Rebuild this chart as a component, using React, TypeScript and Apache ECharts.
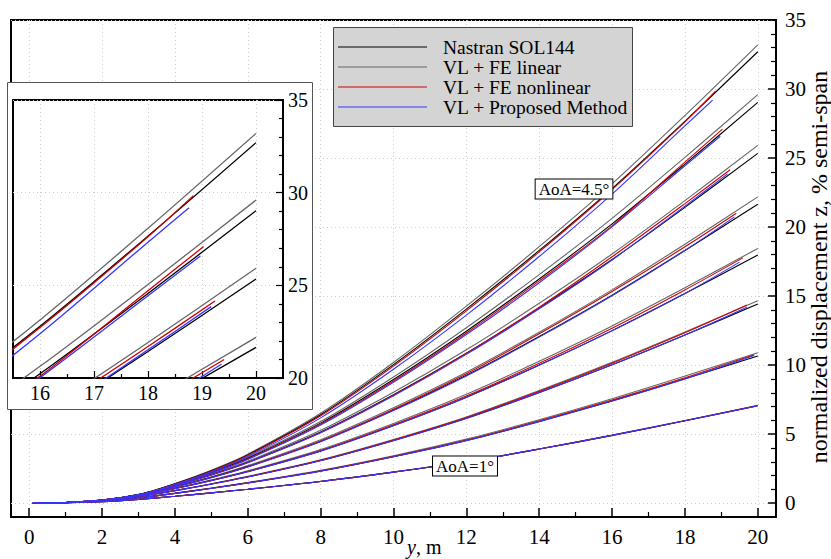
import React, { useEffect, useRef } from 'react';
import * as echarts from 'echarts';

const FONT = "'Liberation Serif', 'Times New Roman', Times, serif";

// AoA values (deg) for the 8 load cases
const aoaValues = [1, 1.5, 2, 2.5, 3, 3.5, 4, 4.5];
// span stations y, m
const spanX = [0.1, 1, 2, 3, 4, 5, 6, 8, 10, 12, 14, 16, 18, 20];

// Nastran SOL144 (black)
const nastranZ = [
  [0, 0.03, 0.11, 0.28, 0.50, 0.75, 1.01, 1.57, 2.25, 3.00, 3.92, 4.91, 5.97, 7.06],
  [0, 0.04, 0.16, 0.39, 0.71, 1.08, 1.47, 2.33, 3.37, 4.54, 5.92, 7.41, 9.01, 10.66],
  [0, 0.05, 0.19, 0.49, 0.91, 1.39, 1.91, 3.09, 4.54, 6.15, 8.02, 10.03, 12.19, 14.42],
  [0, 0.05, 0.21, 0.55, 1.06, 1.64, 2.29, 3.79, 5.63, 7.68, 10.01, 12.50, 15.19, 17.97],
  [0, 0.05, 0.22, 0.60, 1.19, 1.87, 2.65, 4.49, 6.75, 9.26, 12.08, 15.07, 18.31, 21.65],
  [0, 0.05, 0.23, 0.62, 1.29, 2.07, 2.97, 5.16, 7.86, 10.86, 14.15, 17.65, 21.43, 25.34],
  [0, 0.05, 0.22, 0.62, 1.36, 2.23, 3.26, 5.80, 8.96, 12.46, 16.24, 20.23, 24.56, 29.03],
  [0, 0.04, 0.20, 0.60, 1.40, 2.35, 3.50, 6.41, 10.04, 14.06, 18.31, 22.79, 27.66, 32.70],
];

// VL + FE linear (gray)
const linearZ = [
  [0, 0.03, 0.11, 0.28, 0.50, 0.75, 1.01, 1.58, 2.26, 3.01, 3.93, 4.93, 5.99, 7.09],
  [0, 0.04, 0.16, 0.40, 0.73, 1.10, 1.50, 2.38, 3.44, 4.64, 6.05, 7.57, 9.21, 10.90],
  [0, 0.05, 0.19, 0.50, 0.92, 1.41, 1.95, 3.15, 4.62, 6.25, 8.16, 10.20, 12.40, 14.66],
  [0, 0.05, 0.22, 0.57, 1.09, 1.69, 2.35, 3.89, 5.78, 7.89, 10.28, 12.84, 15.60, 18.45],
  [0, 0.05, 0.23, 0.61, 1.22, 1.92, 2.72, 4.60, 6.92, 9.49, 12.38, 15.45, 18.76, 22.19],
  [0, 0.05, 0.23, 0.64, 1.32, 2.12, 3.04, 5.28, 8.04, 11.11, 14.48, 18.05, 21.92, 25.92],
  [0, 0.05, 0.22, 0.63, 1.39, 2.27, 3.32, 5.91, 9.14, 12.71, 16.56, 20.63, 25.05, 29.60],
  [0, 0.04, 0.20, 0.61, 1.42, 2.39, 3.55, 6.51, 10.19, 14.27, 18.58, 23.13, 28.08, 33.20],
];

// VL + FE nonlinear (red); last point is at the deformed tip station
const nonlinearZ = [
  [0, 0.03, 0.11, 0.28, 0.50, 0.75, 1.01, 1.57, 2.25, 3.00, 3.92, 4.91, 5.97, 7.05],
  [0, 0.04, 0.16, 0.39, 0.71, 1.08, 1.47, 2.34, 3.39, 4.57, 5.97, 7.47, 9.08, 10.75],
  [0, 0.05, 0.19, 0.49, 0.91, 1.39, 1.91, 3.10, 4.57, 6.20, 8.10, 10.14, 12.34, 14.35],
  [0, 0.05, 0.21, 0.55, 1.06, 1.64, 2.29, 3.81, 5.68, 7.76, 10.13, 12.68, 15.45, 17.77],
  [0, 0.05, 0.22, 0.59, 1.18, 1.86, 2.64, 4.50, 6.80, 9.37, 12.27, 15.33, 18.57, 21.00],
  [0, 0.05, 0.23, 0.61, 1.28, 2.05, 2.94, 5.12, 7.82, 10.85, 14.20, 17.85, 21.70, 24.15],
  [0, 0.05, 0.22, 0.61, 1.34, 2.20, 3.21, 5.72, 8.85, 12.33, 16.10, 20.09, 24.71, 27.09],
  [0, 0.04, 0.20, 0.59, 1.38, 2.32, 3.46, 6.33, 9.93, 13.93, 18.20, 22.72, 27.62, 29.84],
];
const nonlinearTipX = [19.97, 19.9, 19.7, 19.59, 19.41, 19.24, 19.03, 18.84];

// VL + Proposed Method (blue)
const proposedZ = [
  [0, 0.03, 0.11, 0.28, 0.50, 0.75, 1.01, 1.57, 2.25, 3.00, 3.92, 4.91, 5.97, 7.04],
  [0, 0.04, 0.16, 0.39, 0.71, 1.07, 1.46, 2.32, 3.36, 4.53, 5.91, 7.40, 9.00, 10.70],
  [0, 0.05, 0.19, 0.49, 0.90, 1.38, 1.90, 3.08, 4.53, 6.14, 8.01, 10.02, 12.18, 14.20],
  [0, 0.05, 0.21, 0.54, 1.05, 1.63, 2.28, 3.77, 5.61, 7.66, 9.99, 12.49, 15.19, 17.46],
  [0, 0.05, 0.22, 0.59, 1.17, 1.85, 2.62, 4.45, 6.71, 9.22, 12.03, 15.03, 18.30, 20.74],
  [0, 0.05, 0.22, 0.61, 1.27, 2.04, 2.93, 5.10, 7.78, 10.78, 14.08, 17.62, 21.52, 23.85],
  [0, 0.05, 0.21, 0.60, 1.32, 2.17, 3.17, 5.66, 8.76, 12.22, 15.97, 20.02, 24.44, 26.58],
  [0, 0.04, 0.19, 0.58, 1.35, 2.27, 3.38, 6.18, 9.70, 13.62, 17.87, 22.39, 27.33, 29.19],
];
const proposedTipX = [19.98, 19.9, 19.7, 19.5, 19.36, 19.17, 18.97, 18.76];

// tick values
const xMajorTicks = [0, 2, 4, 6, 8, 10, 12, 14, 16, 18, 20];
const xMinorTicks = [1, 3, 5, 7, 9, 11, 13, 15, 17, 19];
const yMajorTicks = [0, 5, 10, 15, 20, 25, 30, 35];
const yMinorTicks = [1, 2, 3, 4, 6, 7, 8, 9, 11, 12, 13, 14, 16, 17, 18, 19, 21, 22, 23, 24, 26, 27, 28, 29, 31, 32, 33, 34];
const insetXMajor = [16, 17, 18, 19, 20];
const insetXMinor = [16.5, 17.5, 18.5, 19.5];
const insetYMajor = [20, 25, 30, 35];
const insetYMinor = [21, 22, 23, 24, 26, 27, 28, 29, 31, 32, 33, 34];

const legendNames = ['Nastran SOL144', 'VL + FE linear', 'VL + FE nonlinear', 'VL + Proposed Method'];
const legendColors = ['#000000', '#666666', '#d00000', '#3535ff'];
const aoaLabelTexts = ['AoA=4.5°', 'AoA=1°'];

function buildSeries(name: string, color: string, rows: number[][], tipX: number[] | null, inset: boolean, z: number) {
  return rows.map((row, k) => ({
    type: 'line',
    name,
    xAxisIndex: inset ? 2 : 0,
    yAxisIndex: inset ? 2 : 0,
    data: row.map((v, i) => [tipX && i === row.length - 1 ? tipX[k] : spanX[i], v]),
    showSymbol: false,
    symbol: 'none',
    smooth: 0.3,
    clip: true,
    silent: true,
    z,
    lineStyle: { color, width: inset ? 1.3 : 1.1 },
    itemStyle: { color },
  }));
}

const gridLine = { show: true, lineStyle: { color: '#cdcdcd', type: [1, 3], width: 1 } };
const labelStyle = (size: number, margin: number, vals: number[]) => ({
  customValues: vals,
  margin,
  fontSize: size,
  fontFamily: FONT,
  color: '#000',
});

export default function App() {
  const ref = useRef<HTMLDivElement>(null);
  useEffect(() => {
    if (!ref.current) return;
    const chart = echarts.init(ref.current, undefined, { renderer: 'svg' });
    const methods: [string, string, number[][], number[] | null][] = [
      [legendNames[1], legendColors[1], linearZ, null],
      [legendNames[0], legendColors[0], nastranZ, null],
      [legendNames[2], legendColors[2], nonlinearZ, nonlinearTipX],
      [legendNames[3], legendColors[3], proposedZ, proposedTipX],
    ];
    const series: any[] = [];
    methods.forEach((m, i) => series.push(...buildSeries(m[0], m[1], m[2], m[3], false, 2 + i)));
    methods.forEach((m, i) => series.push(...buildSeries(m[0], m[1], m[2], m[3], true, 61 + i)));

    const legendEls: any[] = [
      { type: 'rect', z: 50, shape: { x: 333.5, y: 27.5, width: 299, height: 99 }, style: { fill: '#d4d4d4', stroke: '#444', lineWidth: 1 } },
    ];
    legendNames.forEach((n, i) => {
      const y = 47 + 20 * i;
      legendEls.push({ type: 'line', z: 51, shape: { x1: 338, y1: y, x2: 427, y2: y }, style: { stroke: legendColors[i], lineWidth: 1.2 } });
      legendEls.push({ type: 'text', z: 51, x: 443, y, style: { text: n, fontSize: 19.5, fontFamily: FONT, fill: '#000', align: 'left', verticalAlign: 'middle' } });
    });

    chart.setOption({
      animation: false,
      backgroundColor: '#fff',
      grid: [
        { left: 11, top: 20, right: 55, bottom: 42, show: true, borderColor: '#000', borderWidth: 2, backgroundColor: 'transparent' },
        { left: 13, top: 100, width: 270, height: 278, show: true, borderColor: '#000', borderWidth: 2, backgroundColor: 'transparent', z: 60 },
      ],
      xAxis: [
        {
          gridIndex: 0, type: 'value', min: -0.5, max: 20.5, splitNumber: 10, position: 'bottom',
          axisLine: { show: true, onZero: false, lineStyle: { color: '#000', width: 2 } },
          axisTick: { show: true, inside: true, length: 9, customValues: xMajorTicks, lineStyle: { color: '#000', width: 1.5 } },
          axisLabel: labelStyle(21, 9, xMajorTicks),
          splitLine: gridLine,
        },
        {
          gridIndex: 0, type: 'value', min: -0.5, max: 20.5, position: 'bottom',
          axisLine: { show: false, onZero: false },
          axisTick: { show: true, inside: true, length: 5, customValues: xMinorTicks, lineStyle: { color: '#000', width: 1.2 } },
          axisLabel: { show: false },
          splitLine: { show: false },
        },
        {
          gridIndex: 1, type: 'value', min: 15.5, max: 20.5, position: 'bottom', z: 60,
          axisLine: { show: true, onZero: false, lineStyle: { color: '#000', width: 2 } },
          axisTick: { show: true, inside: true, length: 7, customValues: insetXMajor, lineStyle: { color: '#000', width: 1.2 } },
          axisLabel: labelStyle(20, 5, insetXMajor),
          splitLine: gridLine,
        },
        {
          gridIndex: 1, type: 'value', min: 15.5, max: 20.5, position: 'bottom', z: 60,
          axisLine: { show: false, onZero: false },
          axisTick: { show: true, inside: true, length: 4, customValues: insetXMinor, lineStyle: { color: '#000', width: 1.2 } },
          axisLabel: { show: false },
          splitLine: { show: false },
        },
      ],
      yAxis: [
        {
          gridIndex: 0, type: 'value', min: -1, max: 35, splitNumber: 7, position: 'right', offset: 0,
          axisLine: { show: true, onZero: false, lineStyle: { color: '#000', width: 2 } },
          axisTick: { show: true, inside: true, length: 8, customValues: yMajorTicks, lineStyle: { color: '#000', width: 1.5 } },
          axisLabel: labelStyle(21, 9, yMajorTicks),
          splitLine: gridLine,
        },
        {
          gridIndex: 0, type: 'value', min: -1, max: 35, position: 'right', offset: 0,
          axisLine: { show: false, onZero: false },
          axisTick: { show: true, inside: true, length: 5, customValues: yMinorTicks, lineStyle: { color: '#000', width: 1.2 } },
          axisLabel: { show: false },
          splitLine: { show: false },
        },
        {
          gridIndex: 1, type: 'value', min: 20, max: 35, position: 'right', offset: 0, z: 60,
          axisLine: { show: true, onZero: false, lineStyle: { color: '#000', width: 2 } },
          axisTick: { show: true, inside: true, length: 7, customValues: insetYMajor, lineStyle: { color: '#000', width: 1.2 } },
          axisLabel: labelStyle(20, 5, insetYMajor),
          splitLine: gridLine,
        },
        {
          gridIndex: 1, type: 'value', min: 20, max: 35, position: 'right', offset: 0, z: 60,
          axisLine: { show: false, onZero: false },
          axisTick: { show: true, inside: true, length: 4, customValues: insetYMinor, lineStyle: { color: '#000', width: 1.2 } },
          axisLabel: { show: false },
          splitLine: { show: false },
        },
      ],
      graphic: {
        elements: [
          { type: 'rect', z: 50, shape: { x: 7.5, y: 82.5, width: 305, height: 327 }, style: { fill: '#fff', stroke: '#555', lineWidth: 1 } },
          ...legendEls,
          {
            type: 'text', z: 52, x: 574, y: 189,
            style: { text: aoaLabelTexts[0], fontSize: 17, fontFamily: FONT, fill: '#000', align: 'center', verticalAlign: 'middle', backgroundColor: '#fff', borderColor: '#000', borderWidth: 1, padding: [1, 3, 1, 3] },
          },
          {
            type: 'text', z: 52, x: 465, y: 466,
            style: { text: aoaLabelTexts[1], fontSize: 17, fontFamily: FONT, fill: '#000', align: 'center', verticalAlign: 'middle', backgroundColor: '#fff', borderColor: '#000', borderWidth: 1, padding: [1, 3, 1, 3] },
          },
          {
            type: 'text', z: 52, x: 407, y: 547,
            style: { text: '{i|y}, m', fontSize: 20, fontFamily: FONT, fill: '#000', align: 'left', verticalAlign: 'middle', rich: { i: { fontStyle: 'italic', fontSize: 20, fontFamily: FONT } } },
          },
          {
            type: 'text', z: 52, x: 819, y: 267, rotation: Math.PI / 2,
            style: { text: 'normalized displacement z, % semi-span', fontSize: 24, fontFamily: FONT, fill: '#000', align: 'center', verticalAlign: 'middle' },
          },
        ],
      },
      series,
    });
    return () => chart.dispose();
  }, []);
  return <div ref={ref} style={{ position: 'fixed', left: 0, top: 0, width: 831, height: 559 }} />;
}
